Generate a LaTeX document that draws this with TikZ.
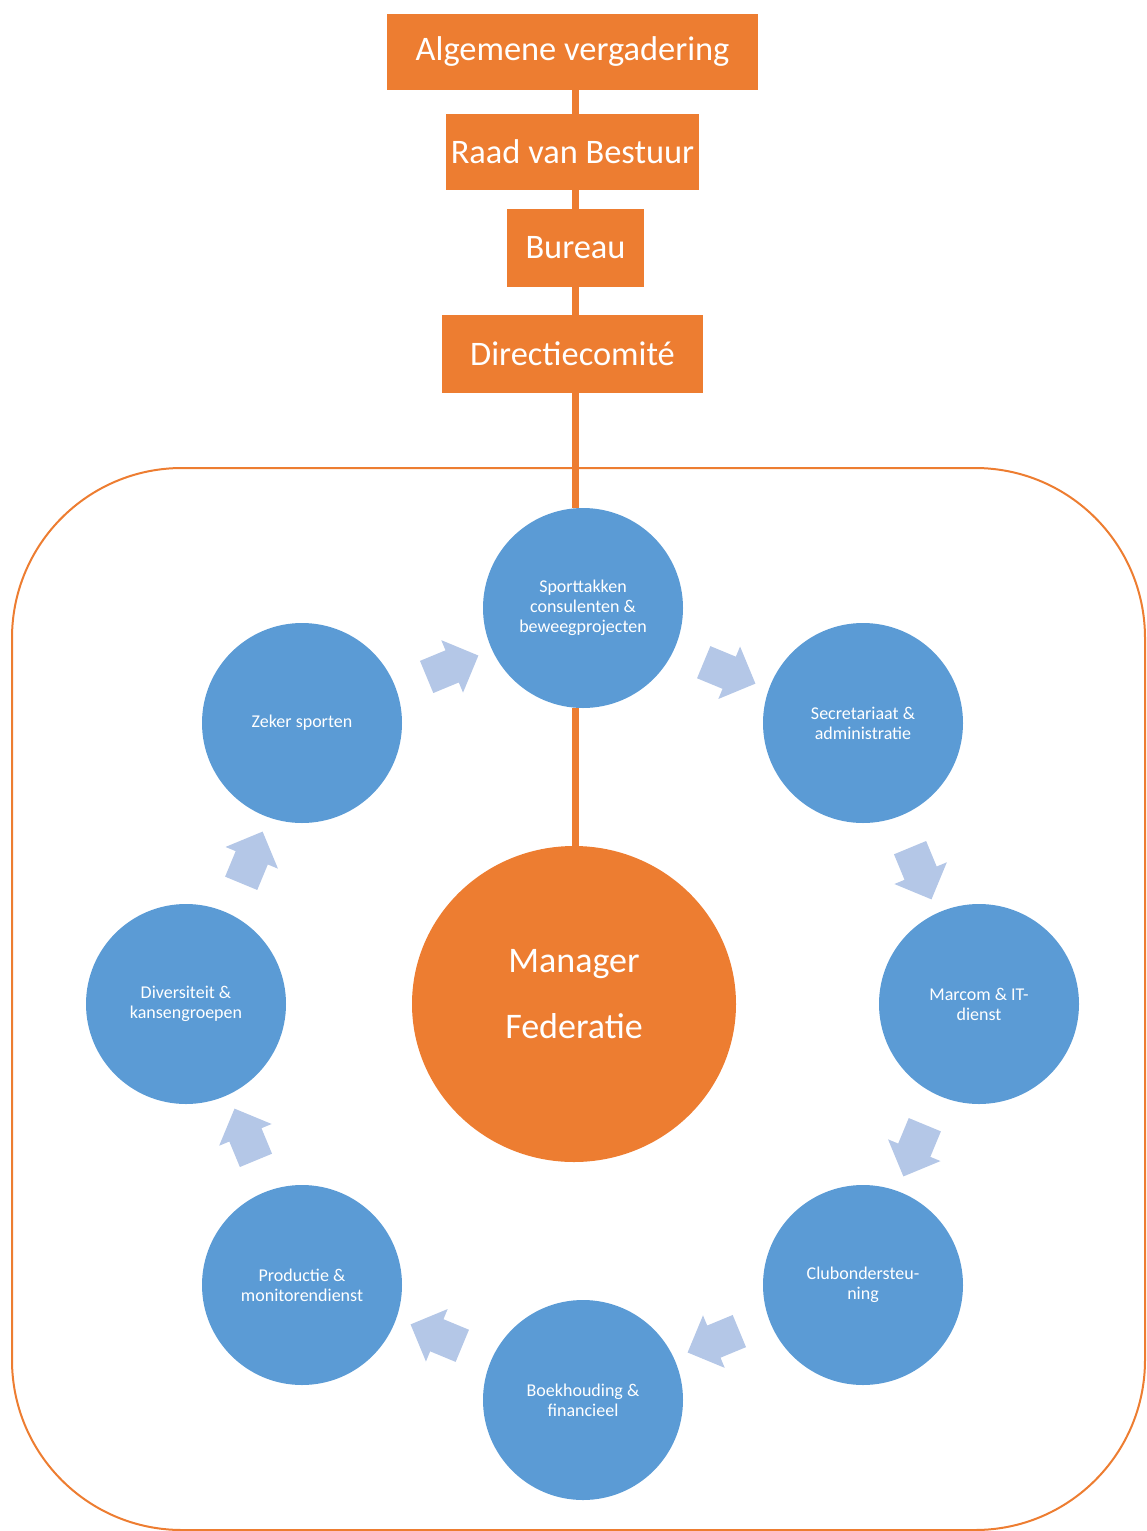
\documentclass[tikz,border=0pt]{standalone}
\usepackage{fontspec}
\setmainfont{Carlito}
\usepackage{tikz}
\usetikzlibrary{positioning,calc,shapes.geometric,shapes.arrows}
\definecolor{fedorange}{HTML}{ED7D31}
\definecolor{fedblue}{HTML}{5B9BD5}
\definecolor{fedlight}{HTML}{B4C7E7}
\tikzset{%
  org box/.style={%
    fill=fedorange,
    text=white,
    inner sep=0pt,
    font=\fontsize{17.2}{20}\selectfont
  }
}
\tikzset{%
  org link/.style={%
    draw=fedorange,
    line width=3.5pt
  }
}
\tikzset{%
  unit/.style={%
    circle,
    fill=fedblue,
    text=white,
    minimum size=100pt,
    inner sep=0pt,
    align=center,
    font=\fontsize{9}{10}\selectfont
  }
}
\tikzset{%
  flow arrow/.style={%
    single arrow,
    fill=fedlight,
    inner xsep=0pt,
    inner ysep=8.5pt,
    minimum height=28pt,
    single arrow head extend=5.5pt,
    single arrow head indent=0pt
  }
}

\begin{document}
\begin{tikzpicture}[x=0.5pt,y=0.5pt]
  \useasboundingbox (0,0) rectangle (1146,-1531);
  \draw [rounded corners=85pt, draw=fedorange, line width=1pt] (12,-468) rectangle (1145,-1530);
  \node [org box, minimum width=185.5pt, minimum height=38pt] (alg) at (572.5,-52) {Algemene vergadering};
  \node [org box, minimum width=126.5pt, minimum height=38pt] (raad) at (572.5,-152) {Raad van Bestuur};
  \node [org box, minimum width=68.5pt, minimum height=39pt] (bur) at (575.5,-248) {Bureau};
  \node [org box, minimum width=130.5pt, minimum height=39pt] (dir) at (572.5,-354) {Directiecomité};
  \coordinate (hub) at (583,-1004);
  \node [unit] (sport) at (583,-608) {Sporttakken\\consulenten \&\\beweegprojecten};
  \node [unit] (secr) at (863,-723) {Secretariaat \&\\administratie};
  \node [unit] (marc) at (979,-1004) {Marcom \& IT-\\dienst};
  \node [unit] (club) at (863,-1285) {Clubondersteu-\\ning};
  \node [unit] (boek) at (583,-1400) {Boekhouding \&\\financieel};
  \node [unit] (prod) at (302,-1285) {Productie \&\\monitorendienst};
  \node [unit] (div) at (186,-1004) {Diversiteit \&\\kansengroepen};
  \node [unit] (zeker) at (302,-723) {Zeker sporten};
  \node [ellipse, fill=fedorange, text=white, minimum width=162pt, minimum height=158pt,
    align=center, text depth=10pt, font=\fontsize{18}{33}\selectfont] (mgr) at (574,-1004) {Manager\\Federatie};
  \draw [org link] (alg.south -| bur) -- (raad.north -| bur);
  \draw [org link] (raad.south -| bur) -- (bur.north);
  \draw [org link] (bur.south) -- (dir.north -| bur);
  \draw [org link] (dir.south -| bur) -- (sport.north -| bur);
  \draw [org link] (sport.south -| bur) -- (mgr.north -| bur);
  \foreach \a in {67.5,22.5,-22.5,-67.5,-112.5,-157.5,157.5,112.5}
    \node [flow arrow, rotate=\a-90] at ($(hub)+(\a:362)$) {};
\end{tikzpicture}
\end{document}
